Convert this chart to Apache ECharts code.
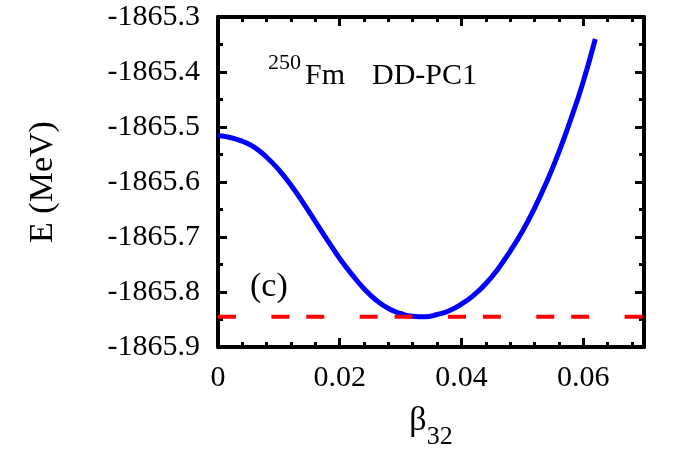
<!DOCTYPE html>
<html>
<head>
<meta charset="utf-8">
<script src="https://cdn.jsdelivr.net/npm/echarts@6/dist/echarts.min.js"></script>
<style>
html,body{margin:0;padding:0;background:#fff;}
#chart{width:693px;height:451px;}
</style>
</head>
<body>
<div id="chart"></div>
<script>
// beta_32 deformation values
const beta32 = [0, 0.002, 0.004, 0.006, 0.008, 0.010, 0.012, 0.014, 0.016, 0.018,
  0.020, 0.022, 0.024, 0.026, 0.028, 0.030, 0.032, 0.034, 0.036, 0.038,
  0.040, 0.042, 0.044, 0.046, 0.048, 0.050, 0.052, 0.054, 0.056, 0.058, 0.060, 0.062];
// Energy (MeV)
const energy = [-1865.516, -1865.519, -1865.526, -1865.537, -1865.555, -1865.578, -1865.606, -1865.638, -1865.672, -1865.706,
  -1865.739, -1865.768, -1865.794, -1865.815, -1865.830, -1865.839, -1865.844, -1865.845, -1865.841, -1865.834,
  -1865.822, -1865.806, -1865.785, -1865.758, -1865.726, -1865.690, -1865.648, -1865.600, -1865.546, -1865.485, -1865.418, -1865.340];
// Reference (minimum) energy level
const minLevelX = [0, 0.07];
const minLevelE = [-1865.845, -1865.845];
const xRange = [0, 0.07];
const yRange = [-1865.9, -1865.3];
const xMajor = 0.02, xMinor = 0.004, yMajor = 0.1;

const FONT = '"Liberation Serif", "Times New Roman", serif';
const chart = echarts.init(document.getElementById('chart'), null, {renderer: 'canvas'});

const curve = beta32.map((b, i) => [b, energy[i]]);
const level = minLevelX.map((b, i) => [b, minLevelE[i]]);

function xAxisDef(pos, major, withLabels) {
  return {
    type: 'value', position: pos, min: xRange[0], max: xRange[1],
    interval: major ? xMajor : xMinor,
    axisLine: {show: major, onZero: false, lineStyle: {color: '#000', width: 4}},
    axisTick: {show: true, inside: true, length: major ? 9 : 5, lineStyle: {color: '#000', width: 3}},
    axisLabel: withLabels ? {
      show: true, fontFamily: FONT, fontSize: 30, color: '#000', margin: 16,
      showMaxLabel: false,
      formatter: v => (Math.abs(v) < 1e-9 ? '0' : v.toFixed(2))
    } : {show: false},
    splitLine: {show: false},
    name: withLabels ? '{b|β}{s|32}' : '',
    nameLocation: 'middle', nameGap: 57, nameMoveOverlap: false,
    nameTextStyle: {
      rich: {
        b: {fontFamily: FONT, fontSize: 34, color: '#000', lineHeight: 34, verticalAlign: 'top'},
        s: {fontFamily: FONT, fontSize: 26, color: '#000', lineHeight: 46, verticalAlign: 'bottom'}
      }
    }
  };
}
function yAxisDef(pos, withLabels) {
  return {
    type: 'value', position: pos, min: yRange[0], max: yRange[1], interval: yMajor,
    axisLine: {show: true, onZero: false, lineStyle: {color: '#000', width: 4}},
    axisTick: {show: true, inside: true, length: 9, lineStyle: {color: '#000', width: 3}},
    minorTick: {show: true, splitNumber: 2, length: 5, lineStyle: {color: '#000', width: 3}},
    axisLabel: withLabels ? {
      show: true, fontFamily: FONT, fontSize: 30, color: '#000', margin: 18,
      formatter: v => v.toFixed(1)
    } : {show: false},
    splitLine: {show: false}, minorSplitLine: {show: false},
    name: withLabels ? 'E (MeV)' : '',
    nameLocation: 'middle', nameGap: 158, nameMoveOverlap: false,
    nameTextStyle: {fontFamily: FONT, fontSize: 34, color: '#000'}
  };
}

const dashBase = {
  type: 'line', xAxisIndex: 0, yAxisIndex: 0, data: level,
  showSymbol: false, symbol: 'none', z: 3, silent: true
};

chart.setOption({
  animation: false,
  backgroundColor: '#fff',
  grid: {left: 218, right: 49, top: 17, bottom: 104, containLabel: false, outerBoundsMode: 'none'},
  xAxis: [
    xAxisDef('bottom', true, true),
    xAxisDef('bottom', false, false),
    xAxisDef('top', true, false),
    xAxisDef('top', false, false)
  ],
  yAxis: [
    yAxisDef('left', true),
    yAxisDef('right', false)
  ],
  series: [
    {
      type: 'line', xAxisIndex: 0, yAxisIndex: 0, data: curve, smooth: 0.5,
      showSymbol: false, symbol: 'none',
      lineStyle: {color: '#0000ff', width: 5}, z: 2
    },
    Object.assign({}, dashBase, {
      lineStyle: {color: '#ff0000', width: 4, type: [18, 70.3], dashOffset: 0}
    }),
    Object.assign({}, dashBase, {
      lineStyle: {color: '#ff0000', width: 4, type: [18, 70.3], dashOffset: 34.9}
    })
  ],
  graphic: [
    {type: 'text', z: 10, style: {text: '250', x: 268, y: 63, font: '22px ' + FONT, fill: '#000', textVerticalAlign: 'middle'}},
    {type: 'text', z: 10, style: {text: 'Fm', x: 305, y: 76, font: '30px ' + FONT, fill: '#000', textVerticalAlign: 'middle'}},
    {type: 'text', z: 10, style: {text: 'DD-PC1', x: 372, y: 76, font: '30px ' + FONT, fill: '#000', textVerticalAlign: 'middle'}},
    {type: 'text', z: 10, style: {text: '(c)', x: 250, y: 287, font: '34px ' + FONT, fill: '#000', textVerticalAlign: 'middle'}}
  ]
});
</script>
</body>
</html>
